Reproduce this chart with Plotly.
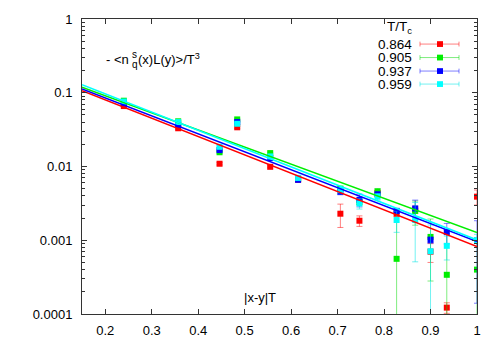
import plotly.graph_objects as go

# ---------------- data ----------------
temps = ["0.864", "0.905", "0.937", "0.959"]
colors = ["#ff0000", "#00ee00", "#0000ff", "#00ffff"]
err_colors = ["rgba(255,0,0,0.5)", "rgba(0,220,0,0.5)", "rgba(0,0,255,0.5)", "rgba(0,230,230,0.55)"]

x_sep = [0.240, 0.357, 0.446, 0.484, 0.555, 0.615, 0.706, 0.747, 0.786, 0.827, 0.867, 0.900, 0.935, 1.000]

red_val = [0.066, 0.033, 0.0109, 0.034, 0.0099, 0.0066, 0.00229, 0.00184, 0.0044, 0.0023, 0.0026, 0.0007, 0.000122, 0.0039]
red_err = [0.002, 0.001, 0.0004, 0.001, 0.0003, 0.0003, 0.0008, 0.0003, 0.0003, 0.0002, 0.0003, 0.0002, 0.00002, 0.0009]

green_val = [0.078, 0.041, 0.0156, 0.0435, 0.0152, 0.0068, 0.0050, 0.0033, 0.0046, 0.00056, 0.0025, 0.00111, 0.00034, 0.0004]
green_err = [0.002, 0.001, 0.0005, 0.001, 0.0004, 0.0003, 0.0004, 0.0003, 0.0004, 0.0018, 0.0009, 0.00083, 0.0009, 0.0006]

blue_val = [0.073, 0.037, 0.0167, 0.040, 0.013, 0.0066, 0.00454, 0.00353, 0.0042, 0.0025, 0.0027, 0.00101, 0.00129, 0.00099]
blue_err = [0.002, 0.001, 0.0005, 0.001, 0.0004, 0.0003, 0.0004, 0.0007, 0.0003, 0.0002, 0.0008, 0.0001, 0.0004, 0.00085]

cyan_val = [0.076, 0.040, 0.0185, 0.038, 0.0137, 0.0070, 0.0048, 0.00315, 0.0039, 0.00188, 0.00188, 0.00071, 0.00084, 0.00100]
cyan_err = [0.002, 0.001, 0.0005, 0.001, 0.0004, 0.0003, 0.0004, 0.0005, 0.0004, 0.0006, 0.00137, 0.0009, 0.0003, 0.0002]

fit_x = [0.15, 1.0]
red_fit = [0.107, 0.00082]
green_fit = [0.119, 0.00127]
blue_fit = [0.113, 0.00096]
cyan_fit = [0.129, 0.00101]

x_ticks = [0.2, 0.3, 0.4, 0.5, 0.6, 0.7, 0.8, 0.9, 1.0]
x_ticktext = ["0.2", "0.3", "0.4", "0.5", "0.6", "0.7", "0.8", "0.9", "1"]
y_ticks = [1, 0.1, 0.01, 0.001, 0.0001]
y_ticktext = ["1", "0.1", "0.01", "0.001", "0.0001"]

values = [red_val, green_val, blue_val, cyan_val]
errors = [red_err, green_err, blue_err, cyan_err]
fits = [red_fit, green_fit, blue_fit, cyan_fit]

# ---------------- layout geometry ----------------
W, H = 500, 350
L, R, T, B = 82, 23, 16, 28
FONT = "Liberation Sans, Arial, Helvetica, sans-serif"

def px(xp):
    return (xp - L) / (W - L - R)

def py(yp):
    return (H - B - yp) / (H - T - B)

fig = go.Figure()

for v, e, c, ec, name in zip(values, errors, colors, err_colors, temps):
    fig.add_trace(go.Scatter(
        x=x_sep, y=v, mode="markers", name=name, showlegend=False,
        marker=dict(symbol="square", size=6, color=c, line=dict(width=0)),
        error_y=dict(type="data", array=e, visible=True, color=ec, thickness=1, width=3),
    ))

for f, c in zip(fits, colors):
    fig.add_trace(go.Scatter(
        x=fit_x, y=f, mode="lines", showlegend=False,
        line=dict(color=c, width=1.5),
    ))

shapes = []
annotations = []

# custom legend (text left, sample right, gnuplot style)
annotations.append(dict(
    x=px(414), y=py(25), xref="paper", yref="paper", xanchor="right", yanchor="middle",
    text="T/T<sub>c</sub>", showarrow=False, font=dict(family=FONT, size=13.5, color="black")))
entry_y = [42, 56, 70, 83.5]
for name, c, ec, ey in zip(temps, colors, err_colors, entry_y):
    annotations.append(dict(
        x=px(414), y=py(ey), xref="paper", yref="paper", xanchor="right", yanchor="middle",
        text=name, showarrow=False, font=dict(family=FONT, size=13.5, color="black")))
    shapes.append(dict(type="line", xref="paper", yref="paper",
                       x0=px(420), x1=px(459), y0=py(ey), y1=py(ey),
                       line=dict(color=ec, width=1)))
    for hx in (420, 459):
        shapes.append(dict(type="line", xref="paper", yref="paper",
                           x0=px(hx), x1=px(hx), y0=py(ey - 2.5), y1=py(ey + 2.5),
                           line=dict(color=ec, width=1)))
    shapes.append(dict(type="rect", xref="paper", yref="paper",
                       x0=px(437), x1=px(443), y0=py(ey - 3), y1=py(ey + 3),
                       fillcolor=c, line=dict(width=0)))

# y-label inside the plot
annotations.append(dict(
    x=px(104), y=py(58), xref="paper", yref="paper", xanchor="left", yanchor="middle",
    text="- <n", showarrow=False, font=dict(family=FONT, size=13, color="black")))
annotations.append(dict(
    x=px(129.5), y=py(53), xref="paper", yref="paper", xanchor="left", yanchor="middle",
    text="s", showarrow=False, font=dict(family=FONT, size=10, color="black")))
annotations.append(dict(
    x=px(129.5), y=py(63), xref="paper", yref="paper", xanchor="left", yanchor="middle",
    text="q", showarrow=False, font=dict(family=FONT, size=10, color="black")))
annotations.append(dict(
    x=px(136), y=py(57), xref="paper", yref="paper", xanchor="left", yanchor="middle",
    text="(x)L(y)>/T<sup>3</sup>", showarrow=False, font=dict(family=FONT, size=13, color="black")))

# x-label inside the plot
annotations.append(dict(
    x=px(260), y=py(305), xref="paper", yref="paper", xanchor="center", yanchor="middle",
    text="|x-y|T", showarrow=False, font=dict(family=FONT, size=13, color="black")))

axis_common = dict(
    showline=True, linecolor="#333333", linewidth=1, mirror="allticks",
    ticks="inside", tickcolor="#333333", ticklen=5, tickwidth=1,
    showgrid=False, zeroline=False,
    tickfont=dict(family=FONT, size=13, color="black"),
)

fig.update_layout(
    width=W, height=H,
    margin=dict(l=L, r=R, t=T, b=B, pad=0),
    paper_bgcolor="white", plot_bgcolor="white",
    showlegend=False,
    shapes=shapes, annotations=annotations,
    xaxis=dict(range=[0.15, 1.0], tickmode="array", tickvals=x_ticks, ticktext=x_ticktext,
               ticklabelstandoff=4, **axis_common),
    yaxis=dict(type="log", range=[-4, 0], tickmode="array", tickvals=y_ticks, ticktext=y_ticktext,
               ticklabelstandoff=6,
               minor=dict(ticks="inside", ticklen=3, tickcolor="#333333", showgrid=False, dtick="D1"),
               **axis_common),
)

fig.write_html("out.html", config={"displayModeBar": False},
               post_script="document.body.style.margin='0';document.body.style.overflow='hidden';")
